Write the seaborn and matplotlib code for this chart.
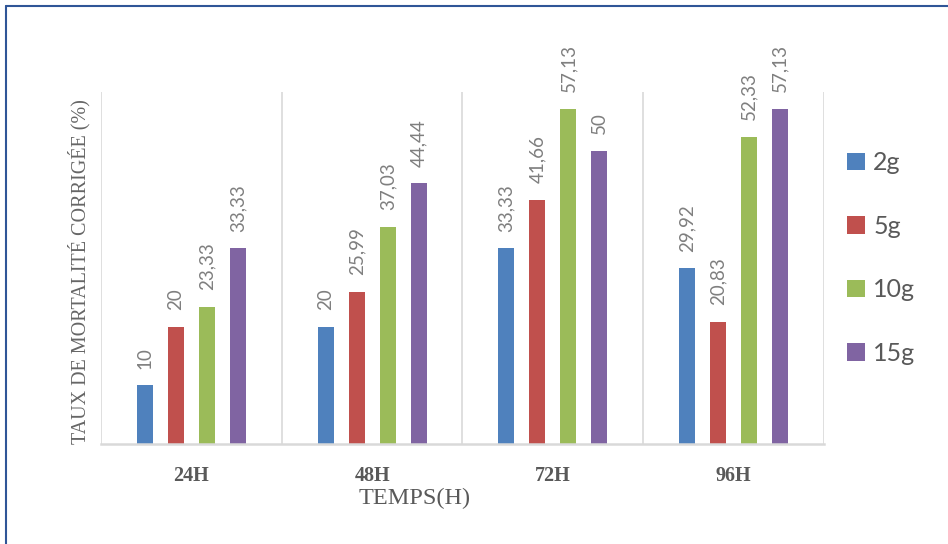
import matplotlib
matplotlib.use("Agg")
import matplotlib.pyplot as plt
from matplotlib.lines import Line2D
import seaborn as sns
import pandas as pd

# Mortality data (corrected rate, %) by exposure time and dose
temps = ["24H", "48H", "72H", "96H"]
doses = ["2g", "5g", "10g", "15g"]
taux_2g = [10, 20, 33.33, 29.92]
taux_5g = [20, 25.99, 41.66, 20.83]
taux_10g = [23.33, 37.03, 57.13, 52.33]
taux_15g = [33.33, 44.44, 50, 57.13]
couleurs = ["#4F81BD", "#C0504D", "#9BBB59", "#8064A2"]

series = [taux_2g, taux_5g, taux_10g, taux_15g]
df = pd.DataFrame(
    [(t, d, v) for d, vals in zip(doses, series) for t, v in zip(temps, vals)],
    columns=["temps", "dose", "taux"],
)

sns.set_theme(style="white")
plt.rcParams["font.family"] = ["Lato", "DejaVu Sans"]
gris = "#595959"

fig = plt.figure(figsize=(9.48, 5.44), dpi=100)
ax = fig.add_axes([101 / 948, 1 - 444 / 544, (824 - 101) / 948, (444 - 92) / 544])

sns.barplot(
    data=df, x="temps", y="taux", hue="dose", hue_order=doses, order=temps,
    palette=couleurs, saturation=1, width=0.685, gap=0.48, errorbar=None,
    linewidth=0, ax=ax,
)

# Value labels above each bar, with decimal comma
for cont, vals in zip(ax.containers, series):
    labels = [f"{v:g}".replace(".", ",") for v in vals]
    ax.bar_label(cont, labels=labels, rotation=90, padding=12,
                 fontsize=13.5, color="#7F7F7F")

ax.set_xlim(-0.5, 3.5)
ax.set_ylim(0, 60)
ax.set_yticks([])
ax.set_xticks(range(len(temps)))
ax.set_xticklabels(temps, family="Liberation Serif", fontweight="bold",
                   fontsize=14.5, color=gris)
ax.tick_params(axis="x", length=0, pad=16)
ax.set_xticks([i - 0.5 for i in range(len(temps) + 1)], minor=True)
ax.tick_params(axis="x", which="minor", length=0)
ax.grid(which="minor", axis="x", color="#D9D9D9", linewidth=1.2)
ax.grid(which="major", axis="both", visible=False)
ax.set_axisbelow(True)
for side in ["top", "left", "right"]:
    ax.spines[side].set_visible(False)
ax.spines["bottom"].set_color("#D9D9D9")
ax.spines["bottom"].set_linewidth(1.8)
ax.set_xlabel("")
ax.set_ylabel("")

fig.text(415 / 948, 1 - 498 / 544, "TEMPS(H)", family="Liberation Serif",
         fontsize=17.5, color=gris, ha="center", va="center")
fig.text(79 / 948, 1 - 272 / 544, "TAUX DE MORTALITÉ CORRIGÉE (%)",
         family="Liberation Serif", fontsize=14.5, color="#666666",
         rotation=90, ha="center", va="center")

handles, labels = ax.get_legend_handles_labels()
if ax.legend_:
    ax.legend_.remove()
leg = fig.legend(
    handles, labels, loc="center left", bbox_to_anchor=(847 / 948, 1 - 258 / 544),
    frameon=False, fontsize=18, handlelength=0.7, handleheight=0.7,
    handletextpad=0.35, labelspacing=1.62, borderpad=0, borderaxespad=0,
)
for t in leg.get_texts():
    t.set_color(gris)

# Outer chart border (left and top edges)
fig.add_artist(Line2D([6 / 948, 6 / 948], [0, 1 - 6 / 544], color="#2F5597",
                      linewidth=1.5, transform=fig.transFigure))
fig.add_artist(Line2D([6 / 948, 1], [1 - 6 / 544, 1 - 6 / 544], color="#2F5597",
                      linewidth=1.5, transform=fig.transFigure))

fig.savefig("out.png", dpi=100)
